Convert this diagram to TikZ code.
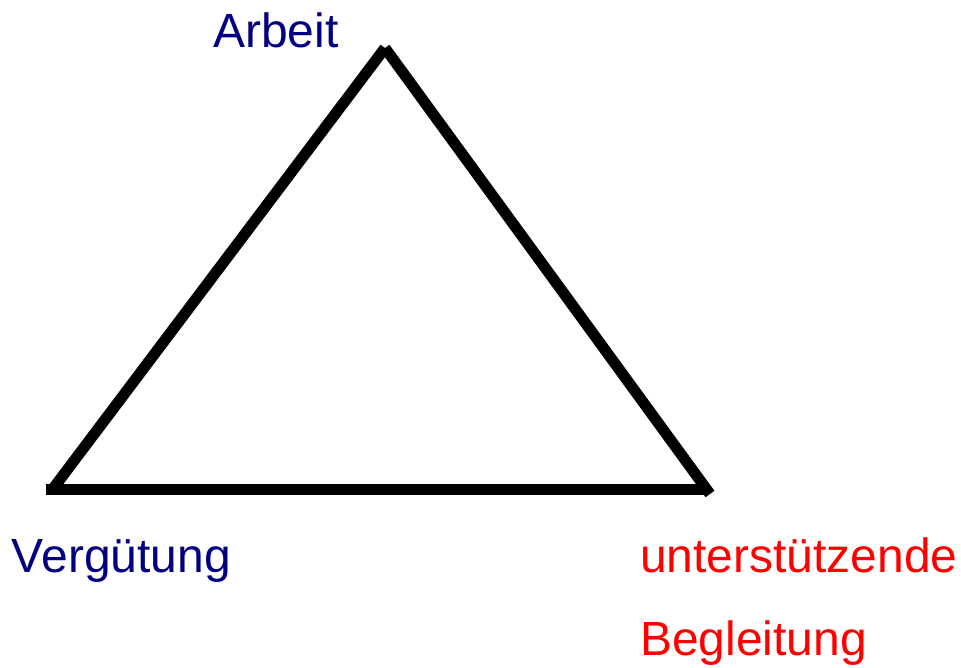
\documentclass[tikz,border=0pt]{standalone}
\usepackage{fontspec}
\setmainfont{Liberation Sans}
\definecolor{navyblue}{RGB}{0,0,128}
\definecolor{pured}{RGB}{255,0,0}
\begin{document}
\begin{tikzpicture}[x=1pt,y=1pt,
  lbl/.style={anchor=base west,inner sep=0pt,outer sep=0pt,font=\fontsize{48}{57}\selectfont},
  edge/.style={line width=11pt,line cap=butt,black}]
\useasboundingbox (0,0) rectangle (961,667);
\coordinate (top) at (385,619);
\coordinate (bl) at (52,177);
\coordinate (blh) at (46,177);
\coordinate (br) at (710,173);
\coordinate (brh) at (708,177);
\draw[edge] (bl) -- (top);
\draw[edge] (top) -- (br);
\draw[edge] (blh) -- (brh);
\node[lbl,text=navyblue] (arbeit) at (213,619) {Arbeit};
\node[lbl,text=navyblue] (verg) at (12,95) {Vergütung};
\node[lbl,text=pured] (unter) at (640,95) {unterstützende};
\node[lbl,text=pured] (begl) at (640,12) {Begleitung};
\end{tikzpicture}
\end{document}
